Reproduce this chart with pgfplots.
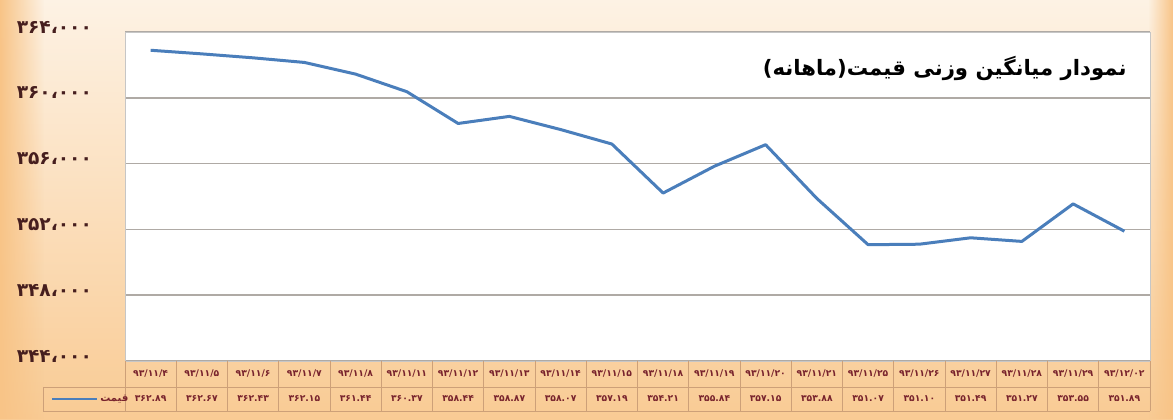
\documentclass[border=0pt]{standalone}
\usepackage{fontspec}
\usepackage{pgfplots}
\usepackage{pgfplotstable}
\pgfplotsset{compat=1.18}
\usetikzlibrary{fadings}
\TeXXeTstate=1
\setmainfont{DejaVu Sans}
\newfontfamily\fa[Script=Arabic]{DejaVu Sans}

\definecolor{bgtop}{RGB}{253,242,228}
\definecolor{bgbot}{RGB}{249,203,148}
\definecolor{bgside}{RGB}{248,196,135}
\definecolor{linecol}{RGB}{74,126,187}
\definecolor{gridcol}{RGB}{175,170,165}
\definecolor{tabline}{RGB}{205,160,120}
\definecolor{tabtext}{RGB}{120,35,45}
\definecolor{ytext}{RGB}{70,30,30}

% one pixel of the reference = 0.5pt
\newcommand\px[2]{({(#1)*0.5pt},{(419-(#2))*0.5pt})}

\pgfplotstableread{
x y
0 362890
1 362670
2 362430
3 362150
4 361440
5 360370
6 358440
7 358870
8 358070
9 357190
10 354210
11 355840
12 357150
13 353880
14 351070
15 351100
16 351490
17 351270
18 353550
19 351890
}\pricedata

\begin{document}
\begin{tikzpicture}
\shade[top color=bgtop, bottom color=bgbot] (0,0) rectangle (586.5pt,209.5pt);
\fill[bgside, path fading=east] (0,0) rectangle (22pt,209.5pt);
\fill[bgside, path fading=west] (574pt,0) rectangle (586.5pt,209.5pt);

\begin{axis}[
  scale only axis, width=512.5pt, height=164.5pt,
  at={(62.5pt,29pt)}, anchor=south west,
  xmin=-0.5, xmax=19.5, ymin=344000, ymax=364000,
  axis background/.style={fill=white},
  axis line style={draw=gray!45},
  scaled y ticks=false,
  ytick={344000,348000,352000,356000,360000,364000},
  yticklabels={۳۴۴،۰۰۰,۳۴۸،۰۰۰,۳۵۲،۰۰۰,۳۵۶،۰۰۰,۳۶۰،۰۰۰,۳۶۴،۰۰۰},
  yticklabel style={font=\fa\bfseries\fontsize{9.3}{10}\selectfont, text=ytext, xshift=-13pt, yshift=2.5pt},
  ymajorgrids, grid style={gridcol, line width=0.8pt},
  major tick length=0pt,
  xtick={0,...,19},
  xticklabels={۹۳/۱۱/۴,۹۳/۱۱/۵,۹۳/۱۱/۶,۹۳/۱۱/۷,۹۳/۱۱/۸,۹۳/۱۱/۱۱,۹۳/۱۱/۱۲,۹۳/۱۱/۱۳,۹۳/۱۱/۱۴,۹۳/۱۱/۱۵,۹۳/۱۱/۱۸,۹۳/۱۱/۱۹,۹۳/۱۱/۲۰,۹۳/۱۱/۲۱,۹۳/۱۱/۲۵,۹۳/۱۱/۲۶,۹۳/۱۱/۲۷,۹۳/۱۱/۲۸,۹۳/۱۱/۲۹,۹۳/۱۲/۰۲},
  xticklabel style={font=\fa\bfseries\fontsize{4.6}{5}\selectfont, text=tabtext, anchor=center, yshift=-6.5pt},
  extra x ticks={0,...,19},
  extra x tick labels={۳۶۲.۸۹,۳۶۲.۶۷,۳۶۲.۴۳,۳۶۲.۱۵,۳۶۱.۴۴,۳۶۰.۳۷,۳۵۸.۴۴,۳۵۸.۸۷,۳۵۸.۰۷,۳۵۷.۱۹,۳۵۴.۲۱,۳۵۵.۸۴,۳۵۷.۱۵,۳۵۳.۸۸,۳۵۱.۰۷,۳۵۱.۱۰,۳۵۱.۴۹,۳۵۱.۲۷,۳۵۳.۵۵,۳۵۱.۸۹},
  extra x tick style={xticklabel style={yshift=-12.5pt}},
  clip=false,
]
\addplot[linecol, line width=1.5pt, line join=round] table[x=x, y=y] {\pricedata};
\node[anchor=east, font=\fa\bfseries\fontsize{10.6}{11}\selectfont] at (rel axis cs:0.984,0.89)
  {\beginR نمودار میانگین وزنی قیمت(ماهانه)\endR};
\end{axis}

% data table grid
\foreach \i in {0,...,20}
  \draw[tabline, line width=0.5pt] \px{125+51.25*\i}{361} -- \px{125+51.25*\i}{411};
\draw[tabline, line width=0.5pt] \px{43}{387} -- \px{1150}{387};
\draw[tabline, line width=0.5pt] \px{43}{411} -- \px{1150}{411};
\draw[tabline, line width=0.5pt] \px{43}{387} -- \px{43}{411};
\draw[linecol, line width=1.2pt] \px{52}{399} -- \px{97}{399};
\node[anchor=west, inner sep=0pt, text=tabtext, font=\fa\bfseries\fontsize{5}{5}\selectfont] at \px{100}{399} {\beginR قیمت\endR};
\end{tikzpicture}
\end{document}
